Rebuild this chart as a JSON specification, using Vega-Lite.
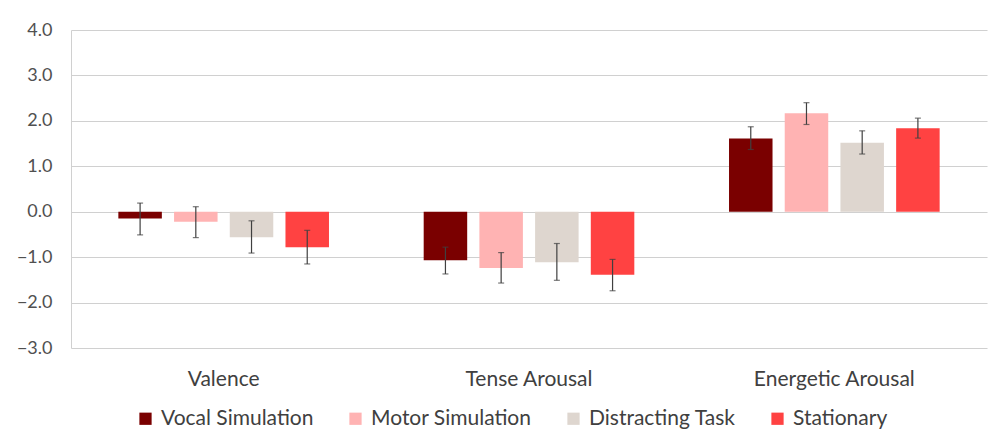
{
  "$schema": "https://vega.github.io/schema/vega-lite/v6.json",
  "width": 916,
  "height": 318,
  "autosize": {"type": "none"},
  "padding": {"left": 71, "top": 30, "right": 5, "bottom": 93},
  "background": "white",
  "config": {
    "font": "Lato",
    "view": {"stroke": null},
    "axis": {"labelFont": "Lato", "titleFont": "Lato"},
    "legend": {"labelFont": "Lato"}
  },
  "data": {
    "values": [
      {"measure": "Valence", "condition": "Vocal Simulation", "mean": -0.15, "lo": -0.51, "hi": 0.19},
      {"measure": "Valence", "condition": "Motor Simulation", "mean": -0.22, "lo": -0.57, "hi": 0.11},
      {"measure": "Valence", "condition": "Distracting Task", "mean": -0.56, "lo": -0.91, "hi": -0.20},
      {"measure": "Valence", "condition": "Stationary", "mean": -0.78, "lo": -1.15, "hi": -0.41},
      {"measure": "Tense Arousal", "condition": "Vocal Simulation", "mean": -1.07, "lo": -1.37, "hi": -0.78},
      {"measure": "Tense Arousal", "condition": "Motor Simulation", "mean": -1.24, "lo": -1.57, "hi": -0.90},
      {"measure": "Tense Arousal", "condition": "Distracting Task", "mean": -1.11, "lo": -1.51, "hi": -0.70},
      {"measure": "Tense Arousal", "condition": "Stationary", "mean": -1.39, "lo": -1.74, "hi": -1.05},
      {"measure": "Energetic Arousal", "condition": "Vocal Simulation", "mean": 1.61, "lo": 1.37, "hi": 1.87},
      {"measure": "Energetic Arousal", "condition": "Motor Simulation", "mean": 2.17, "lo": 1.92, "hi": 2.40},
      {"measure": "Energetic Arousal", "condition": "Distracting Task", "mean": 1.52, "lo": 1.27, "hi": 1.78},
      {"measure": "Energetic Arousal", "condition": "Stationary", "mean": 1.84, "lo": 1.62, "hi": 2.06}
    ]
  },
  "encoding": {
    "x": {
      "field": "measure",
      "type": "nominal",
      "sort": ["Valence", "Tense Arousal", "Energetic Arousal"],
      "scale": {"paddingInner": 0, "paddingOuter": 0},
      "axis": {
        "title": null,
        "labelAngle": 0,
        "labelFontSize": 21,
        "labelColor": "#404040",
        "labelPadding": 20,
        "domain": false,
        "ticks": false
      }
    },
    "xOffset": {
      "field": "condition",
      "type": "nominal",
      "sort": ["Vocal Simulation", "Motor Simulation", "Distracting Task", "Stationary"],
      "scale": {"paddingInner": 0.219, "paddingOuter": 0.85}
    }
  },
  "layer": [
    {
      "mark": {"type": "bar"},
      "encoding": {
        "y": {
          "field": "mean",
          "type": "quantitative",
          "scale": {"domain": [-3, 4], "nice": false},
          "axis": {
            "title": null,
            "values": [-3, -2, -1, 0, 1, 2, 3, 4],
            "format": ".1f",
            "labelFontSize": 18,
            "labelColor": "#505050",
            "labelPadding": 19,
            "ticks": false,
            "domain": true,
            "domainColor": "#d0d0d0",
            "grid": true,
            "gridColor": "#d0d0d0",
            "gridWidth": 1.2
          }
        },
        "color": {
          "field": "condition",
          "type": "nominal",
          "sort": ["Vocal Simulation", "Motor Simulation", "Distracting Task", "Stationary"],
          "scale": {
            "domain": ["Vocal Simulation", "Motor Simulation", "Distracting Task", "Stationary"],
            "range": ["#7a0000", "#ffb3b3", "#ded6cf", "#ff4242"]
          },
          "legend": {
            "title": null,
            "orient": "none",
            "direction": "horizontal",
            "legendX": 64,
            "legendY": 378,
            "symbolType": "square",
            "symbolSize": 150,
            "symbolStrokeWidth": 0,
            "labelFontSize": 21,
            "labelLimit": 400,
            "labelColor": "#404040",
            "labelOffset": 5,
            "columnPadding": 31
          }
        }
      }
    },
    {
      "mark": {"type": "rule", "color": "#404040", "strokeWidth": 1.2},
      "encoding": {
        "y": {"field": "lo", "type": "quantitative"},
        "y2": {"field": "hi"}
      }
    },
    {
      "mark": {"type": "tick", "color": "#404040", "size": 6, "thickness": 1.2},
      "encoding": {
        "y": {"field": "lo", "type": "quantitative"}
      }
    },
    {
      "mark": {"type": "tick", "color": "#404040", "size": 6, "thickness": 1.2},
      "encoding": {
        "y": {"field": "hi", "type": "quantitative"}
      }
    }
  ]
}
